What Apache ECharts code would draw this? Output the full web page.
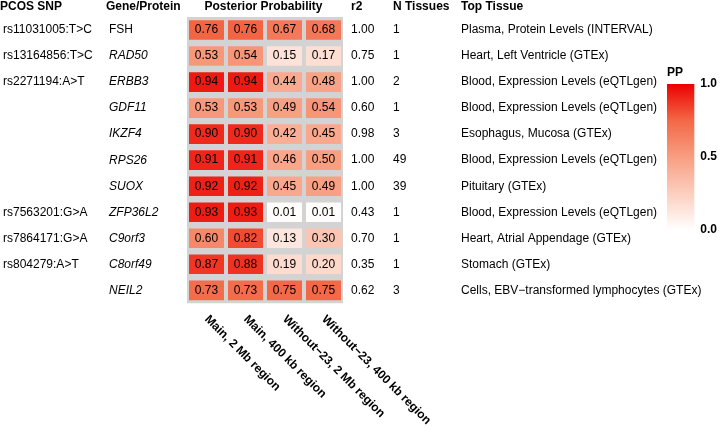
<!DOCTYPE html>
<html>
<head>
<meta charset="utf-8">
<script src="https://cdn.jsdelivr.net/npm/echarts@6/dist/echarts.min.js"></script>
<style>
  html, body { margin: 0; background: #fff; }
  #chart { width: 720px; height: 429px; }
</style>
</head>
<body>
<div id="chart"></div>
<script>
const analyses = ['Main, 2 Mb region', 'Main, 400 kb region', 'Without\u221223, 2 Mb region', 'Without\u221223, 400 kb region'];
const snps = ['rs11031005:T>C', 'rs13164856:T>C', 'rs2271194:A>T', '', '', '', '', 'rs7563201:G>A', 'rs7864171:G>A', 'rs804279:A>T', ''];
const genes = ['FSH', 'RAD50', 'ERBB3', 'GDF11', 'IKZF4', 'RPS26', 'SUOX', 'ZFP36L2', 'C9orf3', 'C8orf49', 'NEIL2'];
const proteins = ['FSH'];
const pp = [
  [0.76, 0.76, 0.67, 0.68],
  [0.53, 0.54, 0.15, 0.17],
  [0.94, 0.94, 0.44, 0.48],
  [0.53, 0.53, 0.49, 0.54],
  [0.90, 0.90, 0.42, 0.45],
  [0.91, 0.91, 0.46, 0.50],
  [0.92, 0.92, 0.45, 0.49],
  [0.93, 0.93, 0.01, 0.01],
  [0.60, 0.82, 0.13, 0.30],
  [0.87, 0.88, 0.19, 0.20],
  [0.73, 0.73, 0.75, 0.75]
];
const r2 = ['1.00', '0.75', '1.00', '0.60', '0.98', '1.00', '1.00', '0.43', '0.70', '0.35', '0.62'];
const nTissues = ['1', '1', '2', '1', '3', '49', '39', '1', '1', '1', '3'];
const topTissue = [
  'Plasma, Protein Levels (INTERVAL)',
  'Heart, Left Ventricle (GTEx)',
  'Blood, Expression Levels (eQTLgen)',
  'Blood, Expression Levels (eQTLgen)',
  'Esophagus, Mucosa (GTEx)',
  'Blood, Expression Levels (eQTLgen)',
  'Pituitary (GTEx)',
  'Blood, Expression Levels (eQTLgen)',
  'Heart, Atrial Appendage (GTEx)',
  'Stomach (GTEx)',
  'Cells, EBV\u2212transformed lymphocytes (GTEx)'
];
const ppColors = ['#ffffff', '#fccfbf', '#f89e81', '#f36846', '#ec0000'];

const font = '"Liberation Sans", Arial, sans-serif';
const txt = { color: '#000', fontSize: 12, fontFamily: font };

const cells = [];
pp.forEach((row, r) => row.forEach((v, c) => cells.push([c, r, v])));

const hidden = { axisLine: { show: false }, axisTick: { show: false }, splitLine: { show: false } };

// text columns are category y axes sharing the heatmap grid
const textAxis = (position, margin, formatter, extra) => Object.assign({
  type: 'category', gridIndex: 0, data: genes, inverse: true, position,
  axisLabel: Object.assign({ margin, align: 'left', formatter }, txt, extra || {})
}, hidden);

const chart = echarts.init(document.getElementById('chart'));

chart.setOption({
  animation: false,
  grid: [
    { left: 184, top: 17, width: 159, height: 291, show: true, backgroundColor: '#d3d3d3', borderWidth: 0 },
    { left: 667, top: 84, width: 30, height: 146 }
  ],
  xAxis: [
    Object.assign({
      type: 'category', gridIndex: 0, data: analyses,
      axisLabel: Object.assign({}, txt, { rotate: -45, fontWeight: 'bold', margin: 14, interval: 0 })
    }, hidden),
    { type: 'category', gridIndex: 1, data: ['PP'], show: false }
  ],
  yAxis: [
    textAxis('left', 78, (v) => proteins.includes(v) ? v : '{i|' + v + '}', { rich: { i: Object.assign({ fontStyle: 'italic' }, txt) } }),
    textAxis('left', 184, (v, i) => snps[i]),
    textAxis('right', 8, (v, i) => r2[i]),
    textAxis('right', 50, (v, i) => nTissues[i]),
    textAxis('right', 118, (v, i) => topTissue[i]),
    {
      type: 'value', gridIndex: 1, min: 0, max: 1, interval: 0.5, position: 'right', z: 10,
      axisLine: { show: false }, splitLine: { show: false },
      axisTick: { inside: true, length: 5, lineStyle: { color: '#fff', width: 1 } },
      axisLabel: Object.assign({}, txt, { fontWeight: 'bold', margin: 6, formatter: (v) => v.toFixed(1) })
    },
    {
      type: 'value', gridIndex: 1, min: 0, max: 1, interval: 0.5, position: 'left', z: 10,
      axisLine: { show: false }, splitLine: { show: false }, axisLabel: { show: false },
      axisTick: { inside: true, length: 5, lineStyle: { color: '#fff', width: 1 } }
    }
  ],
  visualMap: {
    show: false, type: 'continuous', min: 0, max: 1, dimension: 2, seriesIndex: 0,
    inRange: { color: ppColors }
  },
  graphic: [
    { type: 'text', left: 0, top: 1, style: { text: 'PCOS SNP', font: 'bold 12px ' + font, fill: '#000' } },
    { type: 'text', left: 106, top: 1, style: { text: 'Gene/Protein', font: 'bold 12px ' + font, fill: '#000' } },
    { type: 'text', x: 263.5, y: 7, style: { text: 'Posterior Probability', font: 'bold 12px ' + font, fill: '#000', align: 'center', verticalAlign: 'middle' } },
    { type: 'text', left: 351, top: 1, style: { text: 'r2', font: 'bold 12px ' + font, fill: '#000' } },
    { type: 'text', left: 393, top: 1, style: { text: 'N Tissues', font: 'bold 12px ' + font, fill: '#000' } },
    { type: 'text', left: 461, top: 1, style: { text: 'Top Tissue', font: 'bold 12px ' + font, fill: '#000' } },
    { type: 'text', left: 667, top: 67, style: { text: 'PP', font: 'bold 12px ' + font, fill: '#000' } }
  ],
  series: [
    {
      type: 'custom',
      xAxisIndex: 0,
      yAxisIndex: 0,
      encode: { x: 0, y: 1 },
      data: cells,
      renderItem: (params, api) => {
        const c = api.coord([api.value(0), api.value(1)]);
        const s = api.size([1, 1]);
        const w = s[0] - 4;
        const h = s[1] - 6.4;
        return {
          type: 'rect',
          shape: { x: c[0] - w / 2, y: c[1] - h / 2, width: w, height: h },
          style: { fill: api.visual('color') },
          textContent: { style: { text: api.value(2).toFixed(2), fill: '#000', fontSize: 12, fontFamily: font } },
          textConfig: { position: 'inside' }
        };
      }
    },
    {
      // colour bar legend
      type: 'bar',
      xAxisIndex: 1,
      yAxisIndex: 5,
      data: [1],
      barWidth: '100%',
      silent: true,
      itemStyle: {
        color: {
          type: 'linear', x: 0, y: 1, x2: 0, y2: 0,
          colorStops: ppColors.map((c, i) => ({ offset: i / (ppColors.length - 1), color: c }))
        }
      }
    }
  ]
});
</script>
</body>
</html>
